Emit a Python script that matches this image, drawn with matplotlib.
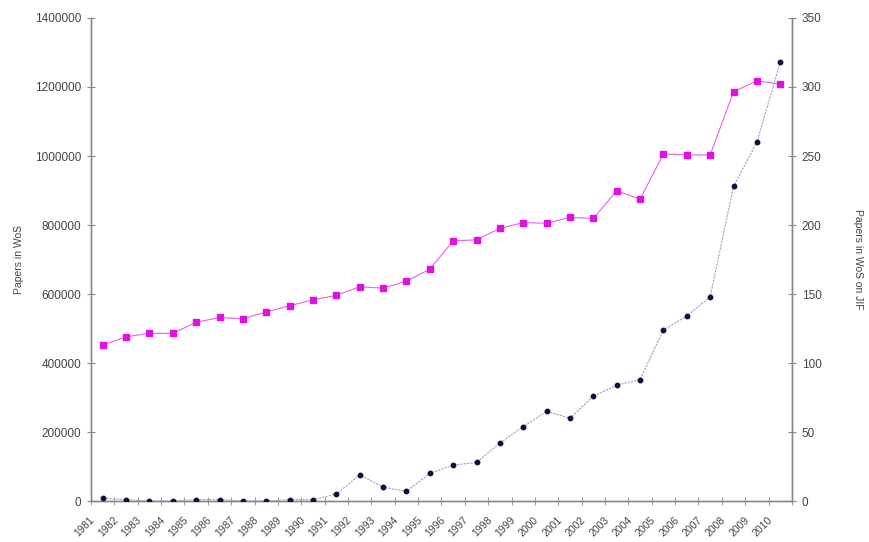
import numpy as np
import matplotlib
matplotlib.use('Agg')
import matplotlib.pyplot as plt
from matplotlib.transforms import ScaledTranslation

# Data
years = [str(y) for y in range(1981, 2011)]
papers_wos = [452000, 476000, 486000, 486000, 518000, 532000, 528000, 548000, 566000, 583000,
              596000, 621000, 617000, 637000, 672000, 754000, 757000, 790000, 807000, 805000,
              822000, 819000, 899000, 875000, 1006000, 1003000, 1003000, 1186000, 1218000, 1208000]
papers_jif = [2, 1, 0, 0, 1, 1, 0, 0, 1, 1,
              5, 19, 10, 7, 20, 26, 28, 42, 54, 65,
              60, 76, 84, 88, 124, 134, 148, 228, 260, 318]

plt.rcParams['font.family'] = ['Liberation Sans', 'DejaVu Sans']

fig = plt.figure(figsize=(8.7, 5.42), dpi=100)
ax = fig.add_axes([0.1046, 0.0756, 0.8057, 0.8912])
ax2 = ax.twinx()

x = np.arange(len(years))

ax.plot(x, papers_wos, color='#e860e8', lw=0.8, marker='s', ms=4.8,
        markerfacecolor='#e010e0', markeredgecolor='#e010e0', zorder=3)
ax2.plot(x, papers_jif, color='#a0a0c0', lw=0.8, ls=(0, (2, 1)), marker='o', ms=3.2,
         markerfacecolor='#101040', markeredgecolor='#101040', zorder=3)

ax.set_xlim(-0.5, len(years) - 0.5)
ax.set_ylim(0, 1400000)
ax2.set_ylim(0, 350)
ax.set_yticks(np.arange(0, 1400001, 200000))
ax2.set_yticks(np.arange(0, 351, 50))
ax.yaxis.set_major_formatter(matplotlib.ticker.FuncFormatter(lambda v, p: f'{int(v)}'))

# category axis: labels at the centres, tick marks at the boundaries
ax.set_xticks(x)
ax.set_xticklabels(years, rotation=45, ha='right', fontsize=7.5)
ax.set_xticks(np.arange(-0.5, len(years), 1), minor=True)
ax.tick_params(axis='x', which='major', length=0, pad=10)
ax.tick_params(axis='x', which='minor', direction='inout', length=6, color='#888888')
shift = ScaledTranslation(-6 / 100, 0, fig.dpi_scale_trans)
for lab in ax.get_xticklabels():
    lab.set_transform(lab.get_transform() + shift)

grey = '#888888'
for a in (ax, ax2):
    a.spines['top'].set_visible(False)
    for s in ('left', 'right', 'bottom'):
        a.spines[s].set_color(grey)
        a.spines[s].set_linewidth(1.0)
    a.tick_params(labelcolor='#444444')
ax.tick_params(axis='y', direction='inout', length=6, color=grey, pad=4, labelsize=8.5)
ax2.tick_params(axis='y', direction='inout', length=6, color=grey, pad=4, labelsize=8.5)

ax.set_ylabel('Papers in WoS', fontsize=7.5, color='#444444', labelpad=8)
ax2.set_ylabel('Papers in WoS on JIF', fontsize=7.5, color='#444444', rotation=-90, labelpad=30)

fig.savefig('out.png', dpi=100)
